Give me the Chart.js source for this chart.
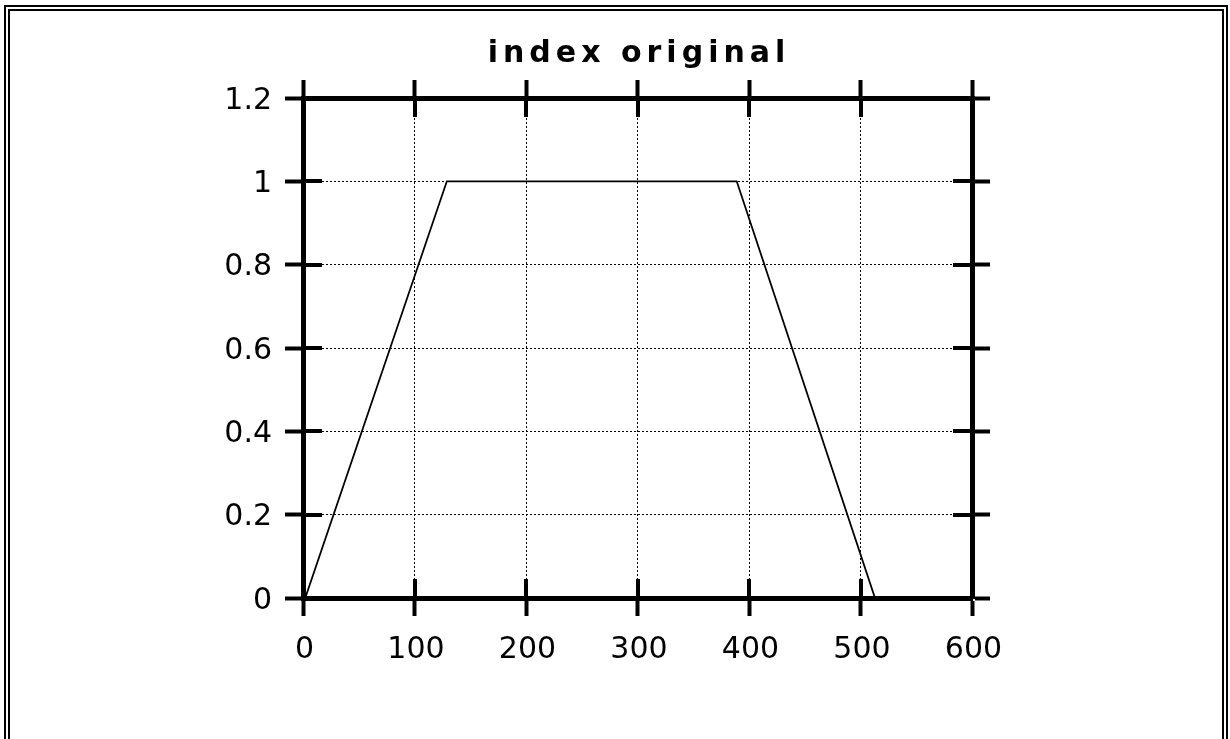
<!DOCTYPE html>
<html>
<head>
<meta charset="utf-8">
<script src="https://cdn.jsdelivr.net/npm/chart.js@4/dist/chart.umd.min.js"></script>
<style>
  html, body { margin: 0; padding: 0; background: #fff; }
  #wrap { position: relative; width: 1230px; height: 739px; overflow: hidden; background: #fff; }
  #c { position: absolute; left: 0; top: 0; }
  #frame { position: absolute; left: 4px; top: 5px; right: 2px; height: 800px;
           border: 6px double #000; box-sizing: border-box; pointer-events: none; }
</style>
</head>
<body>
<div id="wrap">
  <canvas id="c" width="1230" height="739"></canvas>
  <div id="frame"></div>
</div>
<script>
// ---- data ----
const chartTitle = 'index original';
const xValues = [2, 129, 389, 513];
const yValues = [0, 1, 1, 0];
const xTickLabels = ['0', '100', '200', '300', '400', '500', '600'];
const yTickLabels = ['0', '0.2', '0.4', '0.6', '0.8', '1', '1.2'];
const xRange = [0, 600];
const yRange = [0, 1.2];

const points = xValues.map((x, i) => ({ x: x, y: yValues[i] }));

const TICK_LEN = 18;
const TICK_W = 4;
const AXIS_W = 5;

// inner half of the tick marks (outer half is drawn by Chart.js)
const innerTicks = {
  id: 'innerTicks',
  afterDatasetsDraw(chart) {
    const ctx = chart.ctx, a = chart.chartArea;
    const L = 19;
    ctx.save();
    ctx.strokeStyle = '#000';
    ctx.lineWidth = TICK_W;
    ctx.lineCap = 'butt';
    const seg = (x1, y1, x2, y2) => { ctx.beginPath(); ctx.moveTo(x1, y1); ctx.lineTo(x2, y2); ctx.stroke(); };
    const xs = chart.scales.x, ys = chart.scales.y;
    xs.ticks.forEach(t => {
      const p = Math.round(xs.getPixelForValue(t.value));
      seg(p, a.bottom, p, a.bottom - L);
      seg(p, a.top, p, a.top + L);
    });
    ys.ticks.forEach(t => {
      const p = Math.round(ys.getPixelForValue(t.value));
      seg(a.left, p, a.left + L, p);
      seg(a.right, p, a.right - L, p);
    });
    ctx.restore();
  }
};

// wide letter spacing for the title (bitmap-font look)
const titleSpacing = {
  id: 'titleSpacing',
  beforeDraw(chart) { chart.ctx.letterSpacing = '5px'; },
  beforeDatasetsDraw(chart) { chart.ctx.letterSpacing = '0px'; }
};

const tickFont = { family: 'DejaVu Sans', size: 30 };

function axisCommon(min, max, isMain) {
  return {
    type: 'linear',
    min: min, max: max,
    grid: {
      display: true,
      drawOnChartArea: isMain,
      color: '#000',
      lineWidth: 1,
      drawTicks: true,
      tickLength: TICK_LEN,
      tickWidth: TICK_W,
      tickColor: '#000'
    },
    border: { display: true, color: '#000', width: AXIS_W, dash: [2, 2] }
  };
}

const xMain = axisCommon(xRange[0], xRange[1], true);
xMain.position = 'bottom';
xMain.ticks = { stepSize: 100, z: 1, color: '#000', font: tickFont, padding: 16, labelOffset: 1.5,
  maxRotation: 0, autoSkip: false, callback: (v, i) => xTickLabels[i] };
xMain.afterFit = s => { s.height = 141; };

const xTop = axisCommon(xRange[0], xRange[1], false);
xTop.position = 'top';
xTop.ticks = { stepSize: 100, display: false };
xTop.afterFit = s => { s.height = 25.7; };

const yMain = axisCommon(yRange[0], yRange[1], true);
yMain.position = 'left';
yMain.ticks = { stepSize: 0.2, z: 1, color: '#000', font: tickFont, padding: 13, labelOffset: 3,
  autoSkip: false, callback: (v, i) => yTickLabels[i] };
yMain.afterFit = s => { s.width = 255; };

const yRight = axisCommon(yRange[0], yRange[1], false);
yRight.position = 'right';
yRight.ticks = { stepSize: 0.2, display: false };
yRight.afterFit = s => { s.width = 258; };

new Chart(document.getElementById('c'), {
  type: 'line',
  data: {
    datasets: [{
      label: chartTitle,
      data: points,
      borderColor: '#000',
      borderWidth: 1.8,
      pointRadius: 0,
      fill: false,
      tension: 0
    }]
  },
  options: {
    responsive: false,
    animation: false,
    devicePixelRatio: 1,
    layout: { padding: { left: 48, right: 0, top: 0, bottom: 0 } },
    plugins: {
      legend: { display: false },
      tooltip: { enabled: false },
      title: {
        display: true,
        text: chartTitle,
        fullSize: true,
        color: '#000',
        font: { family: 'DejaVu Sans', size: 30, weight: 'bold', lineHeight: 1.2 },
        padding: { top: 36.3, bottom: 0 }
      }
    },
    scales: { x: xMain, x2: xTop, y: yMain, y2: yRight }
  },
  plugins: [innerTicks, titleSpacing]
});
</script>
</body>
</html>
